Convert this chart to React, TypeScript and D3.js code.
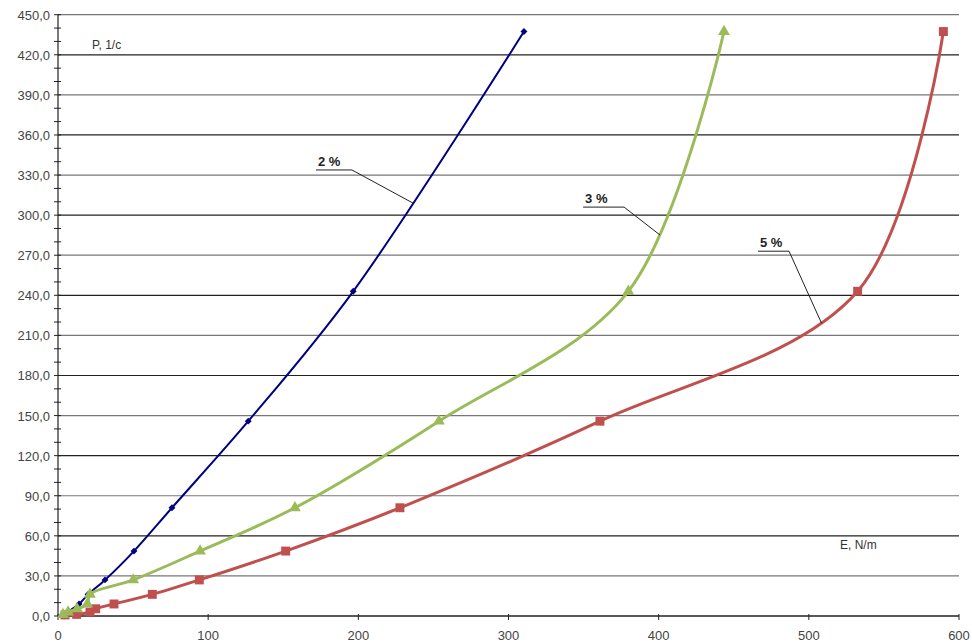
import React, { useEffect, useRef } from 'react';
import * as d3 from 'd3';

// P values shared by the series (1/c)
const P_2 = [1, 9, 16.2, 27, 48.6, 81, 145.8, 243, 437.4];
const E_2 = [3.3, 14, 20, 31.3, 50.6, 75.9, 126.7, 196.6, 310.3];

const P_3 = [1, 3, 5.4, 9, 16.2, 27, 48.6, 81, 145.8, 243, 437.4];
const E_3 = [3.3, 6.7, 12.7, 19.5, 21.3, 50.1, 94.6, 157.8, 253.7, 379.8, 443.5];

const P_5 = [0.8, 1.2, 3, 5.4, 9, 16.2, 27, 48.6, 81, 145.8, 243, 437.4];
const E_5 = [4.7, 12.4, 21.3, 25.1, 37.3, 62.8, 94.1, 151.6, 227.7, 360.9, 532.5, 589.6];

const Y_TICKS = d3.range(0, 451, 30);
const X_TICKS = [0, 100, 200, 300, 400, 500, 600];

const LABELS = [
  { text: '2 %', x: 173.1, y: 336.8, w: 34, tx: 236.4, ty: 309 },
  { text: '3 %', x: 351, y: 309, w: 39, tx: 400.9, ty: 285.1 },
  { text: '5 %', x: 467.5, y: 276, w: 29, tx: 508.5, ty: 219 },
];

const W = 972;
const H = 643;

export default function App() {
  const ref = useRef<SVGSVGElement>(null);

  useEffect(() => {
    if (!ref.current) return;
    const svg = d3.select(ref.current);
    svg.selectAll('*').remove();

    const x = d3.scaleLinear().domain([0, 600]).range([58, 959]);
    const y = d3.scaleLinear().domain([0, 450]).range([616, 14.7]);
    const font = 'Arial, "Liberation Sans", sans-serif';

    // horizontal grid
    svg.append('g')
      .selectAll('line')
      .data(Y_TICKS.filter((d) => d > 0))
      .join('line')
      .attr('x1', x(0)).attr('x2', x(600))
      .attr('y1', (d) => y(d)).attr('y2', (d) => y(d))
      .attr('stroke', (d, i) => (i % 2 ? '#222' : '#777'))
      .attr('stroke-width', 1.2);

    // y axis with minor ticks every 10
    const ya = svg.append('g');
    ya.append('line')
      .attr('x1', x(0)).attr('x2', x(0))
      .attr('y1', y(0)).attr('y2', y(450))
      .attr('stroke', '#222').attr('stroke-width', 1.2);
    ya.selectAll('line.minor')
      .data(d3.range(0, 451, 10))
      .join('line')
      .attr('class', 'minor')
      .attr('x1', x(0) - 4).attr('x2', x(0) + 3)
      .attr('y1', (d) => y(d)).attr('y2', (d) => y(d))
      .attr('stroke', '#222');
    ya.selectAll('text')
      .data(Y_TICKS)
      .join('text')
      .attr('x', 50)
      .attr('y', (d) => y(d) + 5)
      .attr('text-anchor', 'end')
      .attr('font-family', font)
      .attr('font-size', 13)
      .attr('fill', '#444')
      .text((d) => d3.format('.1f')(d).replace('.', ','));

    // x axis
    const xa = svg.append('g');
    xa.append('line')
      .attr('x1', x(0)).attr('x2', x(600))
      .attr('y1', y(0)).attr('y2', y(0))
      .attr('stroke', '#222').attr('stroke-width', 1.6);
    xa.selectAll('line.tick')
      .data(X_TICKS)
      .join('line')
      .attr('class', 'tick')
      .attr('x1', (d) => x(d)).attr('x2', (d) => x(d))
      .attr('y1', y(0) - 2).attr('y2', y(0) + 4)
      .attr('stroke', '#222');
    xa.selectAll('text')
      .data(X_TICKS)
      .join('text')
      .attr('x', (d) => x(d))
      .attr('y', 640)
      .attr('text-anchor', 'middle')
      .attr('font-family', font)
      .attr('font-size', 13)
      .attr('fill', '#444')
      .text((d) => d);

    const curve = d3.curveCatmullRom.alpha(0.5);
    const line = d3.line<[number, number]>()
      .x((d) => x(d[0]))
      .y((d) => y(d[1]))
      .curve(curve);

    const series = [
      { e: E_2, p: P_2, color: '#000080', width: 2, marker: 'diamond' },
      { e: E_5, p: P_5, color: '#C0504D', width: 3, marker: 'square' },
      { e: E_3, p: P_3, color: '#9BBB59', width: 3, marker: 'triangle' },
    ];

    series.forEach((s) => {
      const pts: [number, number][] = s.e.map((e, i) => [e, s.p[i]]);
      svg.append('path')
        .attr('d', line(pts) ?? '')
        .attr('fill', 'none')
        .attr('stroke', s.color)
        .attr('stroke-width', s.width);
      const sym = s.marker === 'diamond'
        ? d3.symbol().type(d3.symbolDiamond2).size(30)
        : s.marker === 'square'
          ? d3.symbol().type(d3.symbolSquare).size(80)
          : d3.symbol().type(d3.symbolTriangle).size(60);
      svg.append('g')
        .selectAll('path')
        .data(pts)
        .join('path')
        .attr('transform', (d) => `translate(${x(d[0])},${y(d[1])})`)
        .attr('d', sym() ?? '')
        .attr('fill', s.color);
    });

    // series labels with leader lines
    const lab = svg.append('g');
    LABELS.forEach((l) => {
      const lx = x(l.x);
      const ly = y(l.y);
      lab.append('text')
        .attr('x', lx).attr('y', ly)
        .attr('font-family', font)
        .attr('font-size', 13)
        .attr('font-weight', 700)
        .attr('fill', '#222')
        .text(l.text);
      lab.append('line')
        .attr('x1', lx - 2).attr('x2', lx + l.w)
        .attr('y1', ly + 4).attr('y2', ly + 4)
        .attr('stroke', '#222').attr('stroke-width', 1);
      lab.append('line')
        .attr('x1', lx + l.w).attr('y1', ly + 4)
        .attr('x2', x(l.tx)).attr('y2', y(l.ty))
        .attr('stroke', '#222').attr('stroke-width', 1);
    });

    svg.append('text')
      .attr('x', 92).attr('y', 49)
      .attr('font-family', font).attr('font-size', 12).attr('fill', '#333')
      .text('P, 1/c');
    svg.append('text')
      .attr('x', 840).attr('y', 549)
      .attr('font-family', font).attr('font-size', 12).attr('fill', '#333')
      .text('E, N/m');
  }, []);

  return (
    <div style={{ position: 'fixed', left: 0, top: 0, background: '#fff' }}>
      <svg ref={ref} width={W} height={H} />
    </div>
  );
}
